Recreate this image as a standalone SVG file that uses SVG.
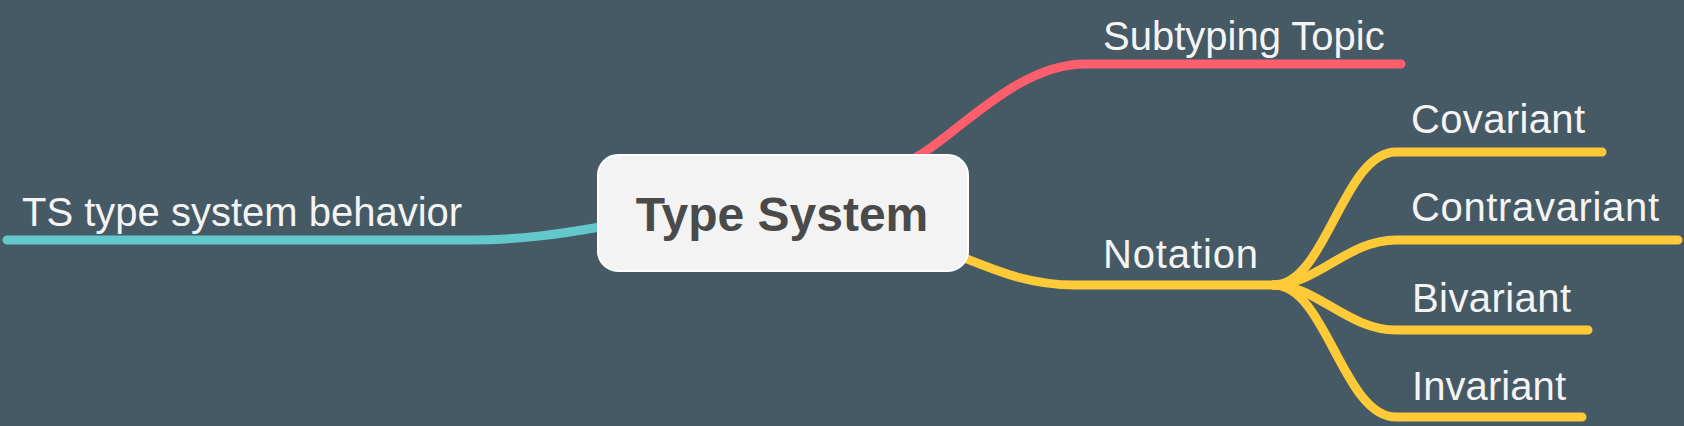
<svg xmlns="http://www.w3.org/2000/svg" width="1684" height="426" viewBox="0 0 1684 426">
<style>
.bg{fill:#465a66}
.c{fill:none;stroke-width:9;stroke-linecap:round;stroke-linejoin:round}
.red{stroke:#ff5f6d}
.yel{stroke:#ffca37}
.teal{stroke:#62c8cb}
.lbl{font-family:"Liberation Sans",Arial,sans-serif;font-size:40px;fill:#f4f4f4}
.root{font-family:"Liberation Sans",Arial,sans-serif;font-size:48px;font-weight:bold;fill:#4a4a4a}
</style>
<rect class="bg" x="0" y="0" width="1684" height="426"/>
<g id="connectors">
<path class="c red" d="M903,163 C945,150 1010,64 1085,64 H1401"/>
<path class="c teal" d="M600,227 C560,234 520,240 470,240 H7"/>
<path class="c yel" d="M962,257 C1000,272 1030,285 1075,285 H1276"/>
<path class="c yel" d="M1274,285 C1326,285 1343,152 1396,152 H1602"/>
<path class="c yel" d="M1274,285 C1316,285 1348,240 1396,240 H1678"/>
<path class="c yel" d="M1274,285 C1316,285 1348,330 1396,330 H1588"/>
<path class="c yel" d="M1274,285 C1326,285 1343,417 1396,417 H1582"/>
</g>
<g id="root">
<rect x="598" y="155" width="370" height="116" rx="20" fill="#f3f3f3" stroke="#ffffff" stroke-width="2"/>
<text class="root" x="782" y="231" text-anchor="middle">Type System</text>
</g>
<g id="n-subtyping"><text class="lbl" x="1103" y="50">Subtyping Topic</text></g>
<g id="n-ts"><text class="lbl" x="22" y="226">TS type system behavior</text></g>
<g id="n-notation"><text class="lbl" x="1103" y="268" textLength="155">Notation</text></g>
<g id="n-covariant"><text class="lbl" x="1411" y="133" textLength="174">Covariant</text></g>
<g id="n-contravariant"><text class="lbl" x="1411" y="221" textLength="248">Contravariant</text></g>
<g id="n-bivariant"><text class="lbl" x="1412" y="312" textLength="159">Bivariant</text></g>
<g id="n-invariant"><text class="lbl" x="1412" y="400" textLength="154">Invariant</text></g>
</svg>
